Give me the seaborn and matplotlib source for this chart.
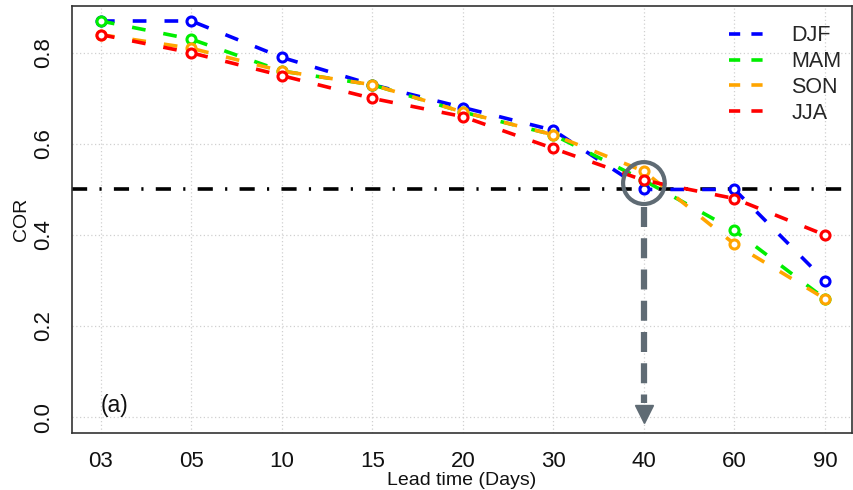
import matplotlib
matplotlib.use("Agg")
import matplotlib.pyplot as plt
import seaborn as sns
import pandas as pd
from matplotlib.lines import Line2D
from matplotlib.patches import Ellipse

lead_labels = ["03", "05", "10", "15", "20", "30", "40", "60", "90"]
seasons = ["DJF", "MAM", "SON", "JJA"]
djf = [0.87, 0.87, 0.79, 0.73, 0.68, 0.63, 0.50, 0.50, 0.30]
mam = [0.87, 0.83, 0.76, 0.73, 0.67, 0.62, 0.52, 0.41, 0.26]
son = [0.84, 0.81, 0.76, 0.73, 0.67, 0.62, 0.54, 0.38, 0.26]
jja = [0.84, 0.80, 0.75, 0.70, 0.66, 0.59, 0.52, 0.48, 0.40]
colors = ["#0000ff", "#00ee00", "#ffa500", "#ff0000"]
threshold = 0.5
highlight_lead = "40"

values = {"DJF": djf, "MAM": mam, "SON": son, "JJA": jja}
df = pd.DataFrame([
    {"lead": lab, "pos": i, "season": s, "cor": v}
    for s in seasons for i, (lab, v) in enumerate(zip(lead_labels, values[s]))
])

sns.set_theme(style="white")
plt.rcParams["font.family"] = ["Liberation Sans", "DejaVu Sans"]

fig = plt.figure(figsize=(8.54, 4.90), dpi=100)
ax = fig.add_axes([0.0843, 0.1163, 0.9134, 0.8715])

gray = "#5f6b74"

# grid
for i in range(len(lead_labels)):
    ax.axvline(i, color="#d0d0d0", lw=0.9, ls=(0, (1, 2)), zorder=0.5)
for yv in [0.0, 0.2, 0.4, 0.6, 0.8]:
    ax.axhline(yv, color="#d0d0d0", lw=0.9, ls=(0, (1, 2)), zorder=0.5)

ax.axhline(threshold, color="black", lw=2.6, ls=(0, (4.2, 3.4, 0.6, 3.4)), zorder=1.5)

for s, c in zip(seasons, colors):
    sub = df[df["season"] == s]
    sns.lineplot(data=sub, x="pos", y="cor", ax=ax, color=c, lw=2.6,
                 linestyle=(0, (3.8, 5.0)), marker="o", markersize=6.5,
                 markerfacecolor="white", markeredgecolor=c, markeredgewidth=2.2,
                 zorder=2, legend=False)

# highlight circle and arrow
hx = lead_labels.index(highlight_lead)
ax.add_patch(Ellipse((hx, 0.514), width=0.46, height=0.092, fill=False,
                     ec=gray, lw=3, zorder=5))
ax.plot([hx, hx], [0.462, 0.03], color=gray, lw=4.5, ls=(0, (3.2, 1.8)),
        solid_capstyle="butt", zorder=5)
ax.plot([hx], [0.006], marker="v", markersize=13, color=gray, mec=gray, zorder=5)

ax.text(0, 0.026, "(a)", fontsize=16.5, ha="left", va="center", color="#111111")

ax.set_xlim(-0.32, 8.3)
ax.set_ylim(-0.035, 0.903)
ax.set_xticks(range(len(lead_labels)))
ax.set_xticklabels(lead_labels)
ax.set_yticks([0.0, 0.2, 0.4, 0.6, 0.8])
ax.set_yticklabels(["0.0", "0.2", "0.4", "0.6", "0.8"], rotation=90, va="center")
ax.tick_params(axis="both", direction="out", length=7, width=1.2, color="#333333",
               labelsize=16, labelcolor="#111111")
ax.tick_params(axis="x", pad=6)
ax.tick_params(axis="y", pad=6)
ax.set_xlabel("Lead time (Days)", fontsize=14, labelpad=0, color="#111111")
ax.set_ylabel("COR", fontsize=14, labelpad=2, color="#111111")
for sp in ax.spines.values():
    sp.set_color("#333333")
    sp.set_linewidth(1.2)

handles = [Line2D([0], [0], color=c, lw=2.6, ls=(0, (3.1, 3.1))) for c in colors]
ax.legend(handles, seasons, loc="upper right", bbox_to_anchor=(1.006, 0.99),
          frameon=False, fontsize=15.5, handlelength=1.6, handletextpad=1.3,
          labelspacing=0.22, borderaxespad=0.3)

fig.savefig("out.png", dpi=100)
